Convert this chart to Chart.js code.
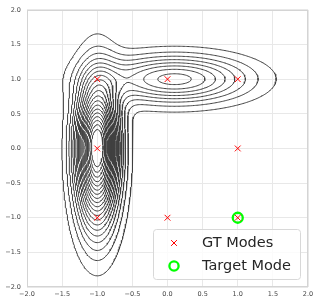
<!DOCTYPE html>
<html><head><meta charset="utf-8">
<script src="https://cdn.jsdelivr.net/npm/chart.js@4.4.0/dist/chart.umd.min.js"></script>
<style>html,body{margin:0;padding:0;background:#fff}#wrap{width:319px;height:304px}</style>
</head><body><div id="wrap"><canvas id="c"></canvas></div>
<script>
// ---- data ----
const tickValues = [-2.0, -1.5, -1.0, -0.5, 0.0, 0.5, 1.0, 1.5, 2.0];
const gtModeX = [-1, 0, 1, -1, 1, -1, 0, 1];
const gtModeY = [1, 1, 1, 0, 0, -1, -1, -1];
const targetModeX = [1];
const targetModeY = [-1];
const legendLabels = ['GT Modes', 'Target Mode'];
// density components estimated from the contour shapes
const compCenterX = [-1.0, -1.0, 0.1];
const compCenterY = [-0.1, 0.2, 1.0];
const compSpreadX = [0.205, 0.19, 0.7];
const compSpreadY = [0.72, 0.4, 0.23];
const compWeight = [0.85, 0.18, 0.39];
const contourLevels = [0.046, 0.092, 0.138, 0.184, 0.23, 0.276, 0.322, 0.368, 0.414, 0.46,
  0.506, 0.552, 0.598, 0.644, 0.69, 0.736, 0.782, 0.828, 0.874, 0.92];

// ---- contour tracing (marching squares) ----
function density(x, y) {
  let s = 0;
  for (let k = 0; k < compWeight.length; k++) {
    const dx = (x - compCenterX[k]) / compSpreadX[k];
    const dy = (y - compCenterY[k]) / compSpreadY[k];
    s += compWeight[k] * Math.exp(-0.5 * (dx * dx + dy * dy));
  }
  return s;
}
const N = 220, lo = -2, hi = 2, h = (hi - lo) / N;
const gx = [], gy = [], F = [];
for (let i = 0; i <= N; i++) { gx.push(lo + i * h); gy.push(lo + i * h); }
for (let j = 0; j <= N; j++) { const row = []; for (let i = 0; i <= N; i++) row.push(density(gx[i], gy[j])); F.push(row); }

function traceLevel(level) {
  const pts = {}; const segs = []; const byKey = {};
  function ip(i1, j1, i2, j2) {
    const v1 = F[j1][i1], v2 = F[j2][i2]; const t = (level - v1) / (v2 - v1);
    return [gx[i1] + (gx[i2] - gx[i1]) * t, gy[j1] + (gy[j2] - gy[j1]) * t];
  }
  function addSeg(k1, k2) { const s = segs.length; segs.push([k1, k2]); (byKey[k1] = byKey[k1] || []).push(s); (byKey[k2] = byKey[k2] || []).push(s); }
  for (let j = 0; j < N; j++) for (let i = 0; i < N; i++) {
    const a = F[j][i], b = F[j][i + 1], c = F[j + 1][i + 1], d = F[j + 1][i];
    const A = a >= level, B = b >= level, C = c >= level, D = d >= level;
    const e = [null, null, null, null];
    if (A !== B) { e[0] = 'h' + i + '_' + j; pts[e[0]] = ip(i, j, i + 1, j); }
    if (B !== C) { e[1] = 'v' + (i + 1) + '_' + j; pts[e[1]] = ip(i + 1, j, i + 1, j + 1); }
    if (D !== C) { e[2] = 'h' + i + '_' + (j + 1); pts[e[2]] = ip(i, j + 1, i + 1, j + 1); }
    if (A !== D) { e[3] = 'v' + i + '_' + j; pts[e[3]] = ip(i, j, i, j + 1); }
    const cr = e.filter(v => v !== null);
    if (cr.length === 2) addSeg(cr[0], cr[1]);
    else if (cr.length === 4) {
      const center = (a + b + c + d) / 4 >= level;
      if ((A && center) || (!A && !center)) { addSeg(e[0], e[1]); addSeg(e[2], e[3]); }
      else { addSeg(e[3], e[0]); addSeg(e[1], e[2]); }
    }
  }
  const used = new Array(segs.length).fill(false);
  const out = [];
  function nextSeg(key) { const l = byKey[key] || []; for (const s of l) if (!used[s]) return s; return -1; }
  for (let s0 = 0; s0 < segs.length; s0++) {
    if (used[s0]) continue;
    used[s0] = true;
    const line = [segs[s0][0], segs[s0][1]];
    let cur = line[1];
    while (true) { const s = nextSeg(cur); if (s < 0) break; used[s] = true; const nk = segs[s][0] === cur ? segs[s][1] : segs[s][0]; line.push(nk); cur = nk; }
    cur = line[0];
    while (true) { const s = nextSeg(cur); if (s < 0) break; used[s] = true; const nk = segs[s][0] === cur ? segs[s][1] : segs[s][0]; line.unshift(nk); cur = nk; }
    for (const k of line) out.push({ x: pts[k][0], y: pts[k][1] });
    out.push({ x: null, y: null });
  }
  return out;
}

const contourSets = contourLevels.map(lv => ({
  data: traceLevel(lv), showLine: true, spanGaps: false, borderColor: '#404040', borderWidth: 1.0,
  pointRadius: 0, pointHoverRadius: 0, pointHitRadius: 0, fill: false, tension: 0
}));

const fmt = v => (v < 0 ? '\u2212' : '') + Math.abs(v).toFixed(1);

const boxLegend = {
  id: 'boxLegend',
  beforeDatasetsDraw(chart) {
    const { ctx, chartArea: ca } = chart;
    ctx.save(); ctx.strokeStyle = '#d4d4d4'; ctx.lineWidth = 1;
    ctx.strokeRect(Math.round(ca.left) + 0.5, Math.round(ca.top) + 0.5, Math.round(ca.right - ca.left) - 1, Math.round(ca.bottom - ca.top) - 1);
    ctx.restore();
  },
  afterDraw(chart) {
    const ctx = chart.ctx;
    ctx.save();
    const x0 = 153.5, y0 = 229.5, w = 147, hh = 50, r = 3;
    ctx.beginPath(); ctx.roundRect(x0, y0, w, hh, r);
    ctx.fillStyle = 'rgba(255,255,255,0.8)'; ctx.fill();
    ctx.strokeStyle = '#d8d8d8'; ctx.lineWidth = 1; ctx.stroke();
    ctx.strokeStyle = 'red'; ctx.lineWidth = 1.0;
    const mx = 174, my1 = 243, my2 = 266, s = 2.9;
    ctx.beginPath(); ctx.moveTo(mx - s, my1 - s); ctx.lineTo(mx + s, my1 + s); ctx.moveTo(mx - s, my1 + s); ctx.lineTo(mx + s, my1 - s); ctx.stroke();
    ctx.strokeStyle = '#00ff00'; ctx.lineWidth = 2.3;
    ctx.beginPath(); ctx.arc(mx, my2, 4.6, 0, Math.PI * 2); ctx.stroke();
    ctx.fillStyle = '#262626'; ctx.font = '14.5px "DejaVu Sans"'; ctx.textBaseline = 'middle';
    ctx.fillText(legendLabels[0], 202, my1 + 0.5);
    ctx.fillText(legendLabels[1], 202, my2 + 0.5);
    ctx.restore();
  }
};

new Chart(document.getElementById('c'), {
  type: 'scatter',
  data: {
    datasets: [
      { label: legendLabels[0], data: gtModeX.map((x, i) => ({ x, y: gtModeY[i] })), pointStyle: 'crossRot', pointRadius: 4.1, borderColor: 'red', borderWidth: 1.0, backgroundColor: 'red' },
      { label: legendLabels[1], data: targetModeX.map((x, i) => ({ x, y: targetModeY[i] })), pointStyle: 'circle', pointRadius: 5, borderColor: '#00ff00', borderWidth: 2.3, backgroundColor: 'rgba(0,0,0,0)' },
      ...contourSets
    ]
  },
  plugins: [boxLegend],
  options: {
    responsive: true, maintainAspectRatio: false, animation: false,
    layout: { padding: { top: 7, right: 11, left: 0, bottom: 0 } },
    plugins: { legend: { display: false }, tooltip: { enabled: false } },
    events: [],
    scales: {
      x: {
        type: 'linear', min: -2, max: 2,
        afterBuildTicks: s => { s.ticks = tickValues.map(v => ({ value: v })); },
        afterFit: s => { s.height = 17; },
        ticks: { callback: fmt, color: '#444', font: { family: 'DejaVu Sans', size: 6.5 }, padding: 3, maxRotation: 0, autoSkip: false },
        grid: { color: '#e8e8e8', drawTicks: false, lineWidth: 1 },
        border: { display: false }
      },
      y: {
        type: 'linear', min: -2, max: 2,
        afterBuildTicks: s => { s.ticks = tickValues.map(v => ({ value: v })); },
        afterFit: s => { s.width = 27; },
        ticks: { callback: fmt, color: '#444', font: { family: 'DejaVu Sans', size: 6.5 }, padding: 6, autoSkip: false },
        grid: { color: '#e8e8e8', drawTicks: false, lineWidth: 1 },
        border: { display: false }
      }
    }
  }
});
</script></body></html>
